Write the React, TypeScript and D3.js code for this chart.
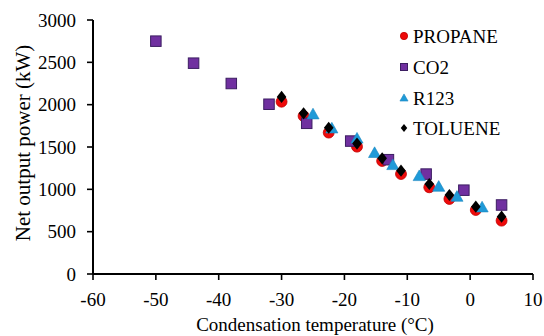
import React from "react";
import * as d3 from "d3";

const xTicks = [-60, -50, -40, -30, -20, -10, 0, 10];
const yTicks = [0, 500, 1000, 1500, 2000, 2500, 3000];

const propaneX = [-30, -26.5, -22.5, -18, -14, -11, -6.5, -3.3, 0.9, 5];
const propaneY = [2035, 1866, 1670, 1504, 1335, 1181, 1024, 886, 756, 630];

const co2X = [-50, -44, -38, -32, -26, -19, -13, -7, -1, 5];
const co2Y = [2750, 2490, 2250, 2005, 1780, 1570, 1350, 1180, 990, 815];

const r123X = [-25, -22, -18, -15.2, -12.3, -8.1, -5, -2.1, 1.9];
const r123Y = [1886, 1720, 1600, 1430, 1287, 1157, 1031, 913, 787];

const tolueneX = [-30, -26.5, -22.5, -18, -14, -11, -6.5, -3.3, 0.9, 5];
const tolueneY = [2092, 1898, 1727, 1540, 1366, 1220, 1063, 933, 795, 677];

const seriesNames = ["PROPANE", "CO2", "R123", "TOLUENE"];

const W = 544;
const H = 336;
const FONT = '"Liberation Serif", "DejaVu Serif", "Times New Roman", serif';

function Marker({ kind, cx, cy, s }: { kind: string; cx: number; cy: number; s: number }) {
  if (kind === "PROPANE") {
    return <circle cx={cx} cy={cy} r={s * 0.52} fill="#ee0a0a" stroke="#c00000" strokeWidth={0.8} />;
  }
  if (kind === "CO2") {
    const h = s * 0.5;
    return <rect x={cx - h} y={cy - h} width={2 * h} height={2 * h} fill="#7030a0" stroke="#3c1e62" strokeWidth={1} />;
  }
  if (kind === "R123") {
    const h = s * 0.58;
    const p = `M${cx},${cy - h} L${cx + h},${cy + h * 0.75} L${cx - h},${cy + h * 0.75} Z`;
    return <path d={p} fill="#1f9ad8" stroke="#1a86c0" strokeWidth={0.6} />;
  }
  const h = s * 0.58;
  const w = s * 0.46;
  const p = `M${cx},${cy - h} L${cx + w},${cy} L${cx},${cy + h} L${cx - w},${cy} Z`;
  return <path d={p} fill="#000" />;
}

export default function App() {
  const x = d3.scaleLinear().domain([-60, 10]).range([93, 533]);
  const y = d3.scaleLinear().domain([0, 3000]).range([274, 20]);

  const series = [
    { name: "PROPANE", xs: propaneX, ys: propaneY },
    { name: "CO2", xs: co2X, ys: co2Y },
    { name: "R123", xs: r123X, ys: r123Y },
    { name: "TOLUENE", xs: tolueneX, ys: tolueneY },
  ];

  const legendY = [36, 67, 98, 128];
  const ts = { fontFamily: FONT };

  return (
    <svg width={W} height={H} style={{ position: "absolute", left: 0, top: 0, background: "#fff" }}>
      <rect width={W} height={H} fill="#fff" />
      <line x1={x(-60)} x2={x(10)} y1={y(0)} y2={y(0)} stroke="#000" strokeWidth={2} />
      <line x1={x(-60)} x2={x(-60)} y1={y(0)} y2={y(3000)} stroke="#000" strokeWidth={2} />
      {xTicks.map((t) => (
        <g key={"xt" + t}>
          <line x1={x(t)} x2={x(t)} y1={y(0)} y2={y(0) + 6} stroke="#000" strokeWidth={1.6} />
          <text x={x(t)} y={y(0) + 32} textAnchor="middle" fontSize={19} fill="#000" style={ts}>{t}</text>
        </g>
      ))}
      {yTicks.map((t) => (
        <g key={"yt" + t}>
          <line x1={x(-60) - 6} x2={x(-60)} y1={y(t)} y2={y(t)} stroke="#000" strokeWidth={1.6} />
          <text x={76} y={y(t) + 6.5} textAnchor="end" fontSize={19} fill="#000" style={ts}>{t}</text>
        </g>
      ))}
      <text x={(x(-60) + x(10)) / 2 + 2} y={331} textAnchor="middle" fontSize={19} fill="#000" style={ts}>
        Condensation temperature (°C)
      </text>
      <text transform={`translate(30,${143}) rotate(-90)`} textAnchor="middle" fontSize={21} fill="#000" style={ts}>
        Net output power (kW)
      </text>
      {series.map((s) => (
        <g key={s.name}>
          {s.xs.map((xv, i) => (
            <Marker key={i} kind={s.name} cx={x(xv)} cy={y(s.ys[i])} s={10.5} />
          ))}
        </g>
      ))}
      {seriesNames.map((n, i) => (
        <g key={"lg" + n}>
          <Marker kind={n} cx={404} cy={legendY[i]} s={7} />
          <text x={413} y={legendY[i] + 6.5} fontSize={19} fill="#000" style={ts}>{n}</text>
        </g>
      ))}
    </svg>
  );
}
